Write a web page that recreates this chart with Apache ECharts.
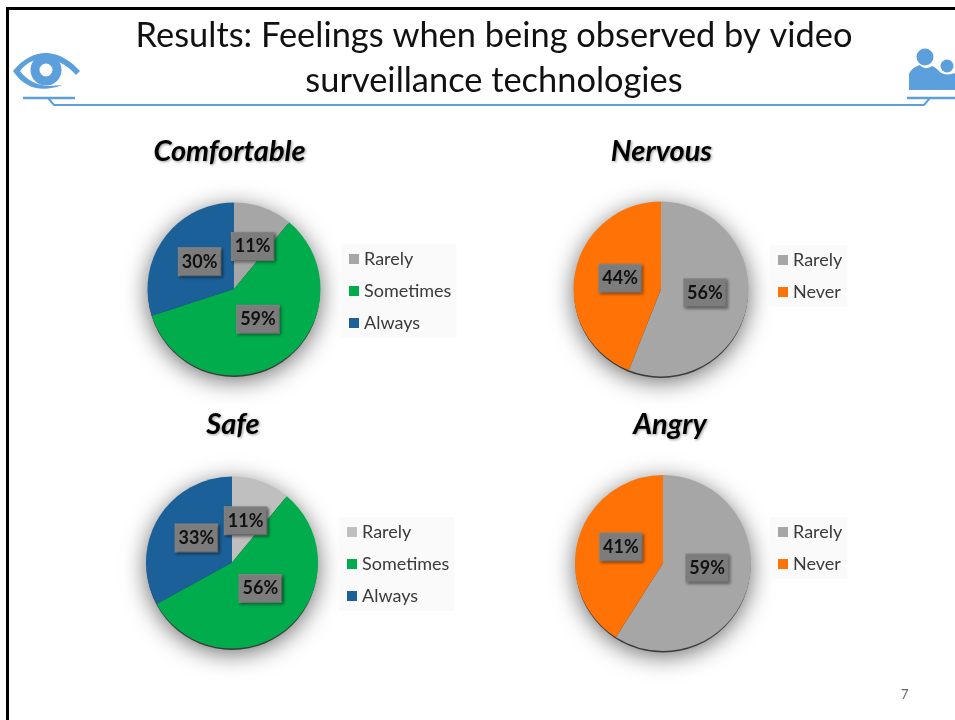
<!DOCTYPE html>
<html><head><meta charset="utf-8">
<style>html,body{margin:0;padding:0;background:#fff}#c{width:955px;height:720px}</style>
<script src="https://cdn.jsdelivr.net/npm/echarts@6/dist/echarts.min.js"></script>
</head><body><div id="c"></div>
<script>
var slideTitle = 'Results: Feelings when being observed by video\nsurveillance technologies';
var threeCategories = ['Rarely', 'Sometimes', 'Always'];
var twoCategories = ['Rarely', 'Never'];
var comfortableValues = [11, 59, 30];
var nervousValues = [56, 44];
var safeValues = [11, 56, 33];
var angryValues = [59, 41];
var comfortableColors = ['#a6a6a6', '#00ac4c', '#1b6099'];
var nervousColors = ['#a6a6a6', '#ff7205'];
var safeColors = ['#bfbfbf', '#00ac4c', '#1b6099'];
var angryColors = ['#a6a6a6', '#ff7205'];

var panels = [
  {name:'Comfortable', cats:threeCategories, vals:comfortableValues, cols:comfortableColors, cx:234, cy:289, r:86.5, tx:224.5, ty:132.5, lx:341, ly:244, nudge:[[3,1],[-2,-8],[3,0]]},
  {name:'Nervous', cats:twoCategories, vals:nervousValues, cols:nervousColors, cx:661, cy:289, r:87.5, tx:656.5, ty:132.5, lx:770, ly:245, nudge:[[-2,-5],[5,-2]]},
  {name:'Safe', cats:threeCategories, vals:safeValues, cols:safeColors, cx:232, cy:562.5, r:86, tx:228, ty:405.5, lx:339, ly:517, nudge:[[-2,1.5],[-1,-9.5],[4,-1]]},
  {name:'Angry', cats:twoCategories, vals:angryValues, cols:angryColors, cx:663, cy:563, r:88, tx:665, ty:405.5, lx:770, ly:517, nudge:[[-1,-8],[3,-3]]}
];

echarts.graphic.registerShape('eyeIcon', echarts.graphic.extendPath('M13 71 C24 57 38 52 48 53 C60 54 71 61 80 71 L76 75 C68 66 58 60 48 59 C36 58 26 63 20 71 C26 79 36 86 50 86 L62 85 C50 90 36 90 28 85 C22 82 17 77 13 71 Z', {}));
echarts.graphic.registerShape('peopleIcon', echarts.graphic.extendPath('M909 90 L909 74 C911 69 916 66 920 65 C923 69 928 69 932 66 C935 67 938 70 940 72 C943 75 950 75 955 73 L955 90 Z', {}));

var blue = '#5b9fdc';
var titles = [{
  text: slideTitle, left: 489, top: 9, textAlign: 'center',
  textStyle: {fontFamily:'Lato', fontWeight:'normal', fontSize:34.4, lineHeight:44.5, color:'#111'}
}];
var legends = [], series = [];
panels.forEach(function(p){
  titles.push({
    text:p.name, left:p.tx, top:p.ty, textAlign:'center',
    textStyle:{fontFamily:'Lato', fontStyle:'italic', fontWeight:'bold', fontSize:29, color:'#000',
      textShadowColor:'rgba(0,0,0,0.4)', textShadowBlur:3, textShadowOffsetX:1, textShadowOffsetY:1}
  });
  legends.push({
    left:p.lx, top:p.ly, orient:'vertical', padding:[6,5,6,8], itemWidth:10, itemHeight:10, itemGap:14,
    backgroundColor:'#fafafa', selectedMode:false,
    textStyle:{fontFamily:'Lato', fontSize:18, color:'#3a3a3a'},
    icon:'rect',
    data:p.cats.map(function(c,i){return {name:c, itemStyle:{color:p.cols[i]}};})
  });
  series.push({
    type:'pie', silent:true, center:[p.cx,p.cy+2], radius:[0,p.r-0.5], z:1,
    animation:false, label:{show:false}, labelLine:{show:false}, tooltip:{show:false},
    legendHoverLink:false,
    data:[{value:1, name:p.name+' rim', itemStyle:{color:'#3a3a3a', shadowColor:'rgba(0,0,0,0.6)', shadowBlur:24, shadowOffsetY:3}}]
  });
  series.push({
    type:'pie', name:p.name, center:[p.cx,p.cy], radius:[0,p.r], startAngle:90, clockwise:true, z:2,
    animation:false,
    data:p.vals.map(function(v,i){return {value:v, name:p.cats[i], itemStyle:{color:p.cols[i]}};}),
    label:{show:true, position:'inside', formatter:'{c}%', fontFamily:'Lato', fontWeight:'bold', fontSize:18,
      color:'#111', backgroundColor:'#7c7c7c', padding:[5,3,4,3], borderColor:'#888', borderWidth:1,
      shadowColor:'rgba(0,0,0,0.4)', shadowBlur:3, shadowOffsetX:1.5, shadowOffsetY:1.5},
    labelLayout:function(params){
      var n = p.nudge[params.dataIndex];
      return {dx:n[0], dy:n[1]};
    },
    labelLine:{show:false}
  });
});

var graphics = [
  {type:'rect', shape:{x:6,y:7,width:3,height:713}, style:{fill:'#000'}},
  {type:'rect', shape:{x:6,y:7,width:949,height:3}, style:{fill:'#000'}},
  {type:'polyline', shape:{points:[[48,98],[54,105],[924,105],[930,98]]}, style:{fill:null, stroke:blue, lineWidth:2}},
  {type:'line', shape:{x1:23,y1:98,x2:75,y2:98}, style:{stroke:blue, lineWidth:2.5}},
  {type:'line', shape:{x1:907,y1:98,x2:955,y2:98}, style:{stroke:blue, lineWidth:2.5}},
  {type:'eyeIcon', style:{fill:blue}},
  {type:'circle', shape:{cx:46,cy:70,r:11}, style:{fill:'#fff', stroke:blue, lineWidth:9}},
  {type:'circle', shape:{cx:925,cy:57,r:8.5}, style:{fill:blue}},
  {type:'circle', shape:{cx:947,cy:66,r:6.5}, style:{fill:blue}},
  {type:'peopleIcon', style:{fill:blue}},
  {type:'text', x:901, y:688, style:{text:'7', fontFamily:'Lato', fontSize:13, fill:'#666'}}
];

var chart = echarts.init(document.getElementById('c'), null, {renderer:'canvas'});
chart.setOption({
  backgroundColor:'#fff', animation:false,
  title:titles, legend:legends, series:series, graphic:{elements:graphics}
});
</script></body></html>
